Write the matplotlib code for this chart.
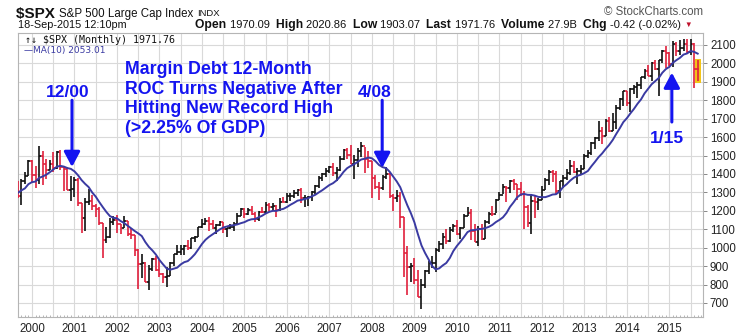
import numpy as np
import pandas as pd
import matplotlib
matplotlib.use('Agg')
import matplotlib.pyplot as plt
from matplotlib.patches import Rectangle

# monthly $SPX bars, Dec 1998 .. Sep 2015 (Dec 1998 - Aug 1999 only feed the MA)
months = pd.period_range('1998-12', '2015-09', freq='M')

closes = [
    1229.23,
    1279.64, 1238.33, 1286.37, 1335.18, 1301.84, 1372.71, 1328.72, 1320.41, 1282.71, 1362.93, 1388.91, 1469.25,
    1394.46, 1366.42, 1498.58, 1452.43, 1420.60, 1454.60, 1430.83, 1517.68, 1436.51, 1429.40, 1314.95, 1320.28,
    1366.01, 1239.94, 1160.33, 1249.46, 1255.82, 1224.42, 1211.23, 1133.58, 1040.94, 1059.78, 1139.45, 1148.08,
    1130.20, 1106.73, 1147.39, 1076.92, 1067.14, 989.82, 911.62, 916.07, 815.28, 885.76, 936.31, 879.82,
    855.70, 841.15, 848.18, 916.92, 963.59, 974.50, 990.31, 1008.01, 995.97, 1050.71, 1058.20, 1111.92,
    1131.13, 1144.94, 1126.21, 1107.30, 1120.68, 1140.84, 1101.72, 1104.24, 1114.58, 1130.20, 1173.82, 1211.92,
    1181.27, 1203.60, 1180.59, 1156.85, 1191.50, 1191.33, 1234.18, 1220.33, 1228.81, 1207.01, 1249.48, 1248.29,
    1280.08, 1280.66, 1294.83, 1310.61, 1270.09, 1270.20, 1276.66, 1303.82, 1335.85, 1377.94, 1400.63, 1418.30,
    1438.24, 1406.82, 1420.86, 1482.37, 1530.62, 1503.35, 1455.27, 1473.99, 1526.75, 1549.38, 1481.14, 1468.36,
    1378.55, 1330.63, 1322.70, 1385.59, 1400.38, 1280.00, 1267.38, 1282.83, 1166.36, 968.75, 896.24, 903.25,
    825.88, 735.09, 797.87, 872.81, 919.14, 919.32, 987.48, 1020.62, 1057.08, 1036.19, 1095.63, 1115.10,
    1073.87, 1104.49, 1169.43, 1186.69, 1089.41, 1030.71, 1101.60, 1049.33, 1141.20, 1183.26, 1180.55, 1257.64,
    1286.12, 1327.22, 1325.83, 1363.61, 1345.20, 1320.64, 1292.28, 1218.89, 1131.42, 1253.30, 1246.96, 1257.60,
    1312.41, 1365.68, 1408.47, 1397.91, 1310.33, 1362.16, 1379.32, 1406.58, 1440.67, 1412.16, 1416.18, 1426.19,
    1498.11, 1514.68, 1569.19, 1597.57, 1630.74, 1606.28, 1685.73, 1632.97, 1681.55, 1756.54, 1805.81, 1848.36,
    1782.59, 1859.45, 1872.34, 1883.95, 1923.57, 1960.23, 1930.67, 2003.37, 1972.29, 2018.05, 2067.56, 2058.90,
    1994.99, 2104.50, 2067.89, 2085.51, 2107.39, 2063.11, 2103.84, 1972.18, 1971.76,
]

highs = [
    1244.93,
    1280, 1281, 1316, 1347, 1375, 1376, 1421, 1357, 1361, 1373, 1410, 1474,
    1478, 1445, 1553, 1527, 1481, 1474, 1517, 1525, 1530, 1437, 1438, 1390,
    1383, 1376, 1242, 1269, 1316, 1287, 1239, 1222, 1134, 1110, 1163, 1173,
    1176, 1131, 1173, 1147, 1107, 1070, 994, 965, 924, 907, 942, 955,
    935, 865, 895, 924, 966, 1016, 1015, 1012, 1040, 1054, 1063, 1112,
    1155, 1159, 1164, 1150, 1128, 1146, 1141, 1109, 1131, 1140, 1188, 1217,
    1217, 1213, 1229, 1192, 1199, 1220, 1246, 1245, 1244, 1233, 1270, 1276,
    1295, 1297, 1311, 1318, 1326, 1284, 1280, 1306, 1340, 1389, 1407, 1431,
    1441, 1462, 1438, 1498, 1535, 1541, 1556, 1503, 1539, 1576, 1545, 1524,
    1472, 1396, 1359, 1397, 1440, 1404, 1292, 1313, 1303, 1167, 1008, 919,
    943, 877, 832, 878, 930, 956, 996, 1039, 1080, 1101, 1111, 1130,
    1150, 1113, 1181, 1220, 1210, 1131, 1120, 1130, 1148, 1196, 1227, 1262,
    1303, 1345, 1333, 1366, 1371, 1346, 1357, 1307, 1230, 1293, 1278, 1269,
    1333, 1378, 1420, 1422, 1416, 1364, 1392, 1427, 1475, 1471, 1434, 1448,
    1510, 1531, 1571, 1598, 1688, 1655, 1698, 1710, 1730, 1776, 1813, 1850,
    1850, 1867, 1884, 1897, 1925, 1968, 1992, 2005, 2019, 2019, 2075, 2093,
    2064, 2120, 2117, 2126, 2135, 2130, 2133, 2113, 2020.86,
]

lows = [
    1136.89,
    1205, 1212, 1226, 1282, 1277, 1281, 1323, 1268, 1268, 1233, 1343, 1387,
    1350, 1325, 1347, 1339, 1373, 1420, 1413, 1427, 1419, 1305, 1313, 1254,
    1274, 1229, 1081, 1091, 1231, 1203, 1165, 1124, 945, 1026, 1054, 1124,
    1081, 1074, 1106, 1063, 1048, 953, 776, 837, 815, 769, 872, 872,
    840, 807, 789, 847, 902, 960, 962, 960, 990, 994, 1032, 1058,
    1105, 1125, 1088, 1104, 1077, 1118, 1078, 1060, 1101, 1090, 1130, 1173,
    1163, 1180, 1176, 1137, 1146, 1188, 1191, 1201, 1205, 1168, 1201, 1246,
    1245, 1253, 1268, 1280, 1245, 1219, 1224, 1253, 1290, 1326, 1360, 1385,
    1403, 1389, 1363, 1416, 1476, 1484, 1454, 1371, 1439, 1490, 1407, 1435,
    1270, 1317, 1257, 1315, 1373, 1272, 1200, 1248, 1106, 840, 741, 816,
    804, 735, 667, 784, 855, 888, 869, 979, 992, 1020, 1029, 1085,
    1071, 1045, 1105, 1170, 1040, 1029, 1011, 1040, 1049, 1131, 1174, 1187,
    1257, 1289, 1249, 1295, 1312, 1258, 1283, 1101, 1114, 1075, 1159, 1202,
    1258, 1312, 1341, 1357, 1292, 1267, 1325, 1370, 1396, 1403, 1343, 1398,
    1426, 1485, 1501, 1537, 1581, 1560, 1604, 1627, 1633, 1646, 1746, 1768,
    1770, 1738, 1834, 1815, 1860, 1915, 1929, 1905, 1965, 1821, 2002, 1973,
    1988, 1981, 2039, 2048, 2068, 2057, 2044, 1867, 1903.07,
]

prior_close = 1163.63     # Nov 1998 close
last_open = 1970.09       # Sep 2015 open

price_ticks = list(range(700, 2200, 100))

# month index, 0 = Jan 2000
x = np.array([(p.year - 2000) * 12 + p.month - 1 for p in months], dtype=float)
closes = np.array(closes)
highs = np.array(highs, dtype=float)
lows = np.array(lows, dtype=float)
prev = np.concatenate([[prior_close], closes[:-1]])
opens = prev.copy()
opens[-1] = last_open
ma10 = pd.Series(closes).rolling(10).mean().to_numpy()

RED = '#e0203c'
BLACK = '#111111'
NAVY = '#3a3aa2'
BLUE = '#1414f0'
cols = [BLACK if c >= p else RED for c, p in zip(closes, prev)]

W, H = 750, 335
fig = plt.figure(figsize=(W / 100, H / 100), dpi=100)
fig.patch.set_facecolor('white')
ax = fig.add_axes([18 / W, 18 / H, 685 / W, 284 / H])


def px(xp, yp):
    return xp / W, 1 - yp / H


# highlight box behind the current month
ax.add_patch(Rectangle((x[-1] - 0.8, lows[-1] - 9), 1.6, highs[-1] - lows[-1] + 13,
                       facecolor='#f2c418', edgecolor='none', zorder=1))

ax.vlines(x, lows, highs, colors=cols, lw=1.2, zorder=3)
ax.hlines(opens, x - 0.5, x, colors=cols, lw=1.2, zorder=3)
ax.hlines(closes, x, x + 0.5, colors=cols, lw=1.2, zorder=3)
ax.plot(x, ma10, color=NAVY, lw=1.4, zorder=4)

ax.set_xlim(-3.95, 189.5)
ax.set_ylim(624, 2165)

half_years = np.arange(0, 190, 6)
ax.set_xticks(half_years)
ax.set_xticklabels([str(2000 + m // 12) if m % 12 == 0 else '' for m in half_years])
ax.set_xticks(np.arange(-3, 190), minor=True)
ax.tick_params(axis='x', which='major', length=0, pad=4, labelsize=8.3, labelcolor='#222222')
ax.tick_params(axis='x', which='minor', length=1.5, direction='in', color='#aaaaaa', width=0.6)

ax.yaxis.tick_right()
ax.set_yticks(price_ticks)
ax.tick_params(axis='y', length=3, width=0.7, color='#888888', pad=2, labelsize=8.3, labelcolor='#222222')
for lab in ax.get_xticklabels() + ax.get_yticklabels():
    lab.set_family('Liberation Sans')

ax.grid(True, which='major', color='#d9d9d9', lw=0.8, zorder=0)
ax.set_axisbelow(True)
for sp in ax.spines.values():
    sp.set_color('#b5b5b5')
    sp.set_linewidth(0.8)

# annotations
fig.text(*px(125, 61), 'Margin Debt 12-Month\nROC Turns Negative After\nHitting New Record High\n(>2.25% Of GDP)',
         color=BLUE, fontsize=12.8, fontweight='bold', family='Liberation Sans',
         va='top', ha='left', linespacing=1.2)

arrow = dict(arrowstyle='-|>,head_length=0.45,head_width=0.24', color=BLUE, lw=2.2,
             mutation_scale=20, shrinkA=0, shrinkB=0)
ax.annotate('', xy=(11.3, 1438), xytext=(11.3, 1800), arrowprops=arrow, zorder=6)
ax.annotate('', xy=(98.9, 1433), xytext=(98.9, 1800), arrowprops=arrow, zorder=6)
ax.annotate('', xy=(180.7, 1950), xytext=(180.7, 1682), arrowprops=arrow, zorder=6)
for lbl, lx, ly in [('12/00', 10.2, 1840), ('4/08', 96.9, 1840), ('1/15', 179.4, 1595)]:
    ax.text(lx, ly, lbl, color=BLUE, fontsize=12.5, fontweight='bold', family='Liberation Sans',
            ha='center', va='center', zorder=6)

# legend lines inside the plot
fig.text(*px(25, 40), '\u2191\u2193 $SPX (Monthly) %.2f' % closes[-1], fontsize=7.2,
         family='DejaVu Sans Mono', color='#111111', va='center')
fig.text(*px(24, 50), '\u2014MA(10) %.2f' % ma10[-1], fontsize=6.5,
         family='DejaVu Sans', color=NAVY, va='center')

# header
renderer = fig.canvas.get_renderer()


def run_text(xp, yp, parts):
    for s, weight, color, size in parts:
        t = fig.text(*px(xp, yp), s, fontsize=size, fontweight=weight, color=color,
                     family=['Liberation Sans', 'DejaVu Sans'], va='center', ha='left')
        xp += t.get_window_extent(renderer).width
    return xp


run_text(16, 14, [('$SPX ', 'bold', '#111111', 11),
                  ('S&P 500 Large Cap Index ', 'normal', '#111111', 8.3),
                  ('INDX', 'normal', '#111111', 6.8)])
run_text(18, 25, [('18-Sep-2015 12:10pm', 'normal', '#111111', 7.8)])
run_text(195, 25, [('Open ', 'bold', '#111111', 8.7),
                   ('%.2f  ' % opens[-1], 'normal', '#111111', 8),
                   ('High ', 'bold', '#111111', 8.7),
                   ('%.2f  ' % highs[-1], 'normal', '#111111', 8),
                   ('Low ', 'bold', '#111111', 8.7),
                   ('%.2f  ' % lows[-1], 'normal', '#111111', 8),
                   ('Last ', 'bold', '#111111', 8.7),
                   ('%.2f  ' % closes[-1], 'normal', '#111111', 8),
                   ('Volume ', 'bold', '#111111', 8.7),
                   ('27.9B  ', 'normal', '#111111', 8),
                   ('Chg ', 'bold', '#111111', 8.7),
                   ('-0.42 (-0.02%) ', 'normal', '#111111', 8),
                   ('\u25bc', 'normal', '#c0102a', 5.5)])
fig.text(*px(703, 12), '\u00a9 StockCharts.com', fontsize=8.3, color='#555555',
         family='Liberation Sans', ha='right', va='center')

fig.savefig('out.png', dpi=100, facecolor='white')
